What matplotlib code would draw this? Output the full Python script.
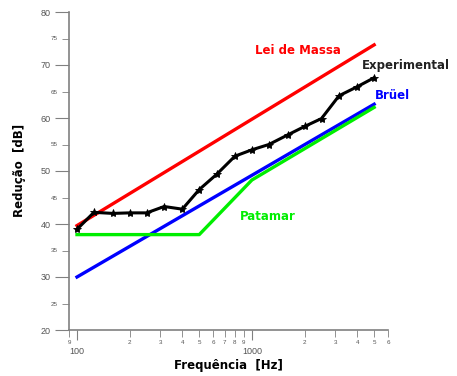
import matplotlib
matplotlib.use("Agg")
import matplotlib.pyplot as plt
from matplotlib.ticker import FixedLocator, FixedFormatter

plt.rcParams["font.family"] = ["Liberation Sans", "DejaVu Sans"]

# ---------------- data ----------------
freq_exp = [100, 125, 160, 200, 250, 315, 400, 500, 630, 800,
            1000, 1250, 1600, 2000, 2500, 3150, 4000, 5000]
red_exp = [39.0, 42.2, 42.0, 42.1, 42.1, 43.3, 42.8, 46.5, 49.4, 52.8,
           54.0, 55.0, 56.8, 58.4, 59.9, 64.2, 65.9, 67.6]

freq_mass = [100, 5000]
red_mass = [39.7, 73.8]

freq_bruel = [100, 5000]
red_bruel = [30.0, 62.6]

freq_patamar = [100, 500, 1000, 5000]
red_patamar = [38.0, 38.0, 48.3, 62.0]

x_minor = [90, 200, 300, 400, 500, 600, 700, 800, 900,
           2000, 3000, 4000, 5000, 6000]
x_minor_labels = ["9", "2", "3", "4", "5", "6", "7", "8", "9",
                  "2", "3", "4", "5", "6"]
x_major = [100, 1000]
x_major_labels = ["100", "1000"]
y_major = [20, 30, 40, 50, 60, 70, 80]
y_minor = [25, 35, 45, 55, 65, 75]

# ---------------- plot ----------------
fig = plt.figure(figsize=(4.57, 3.76), dpi=100)
ax = fig.add_axes([69 / 457, 46 / 376, 319 / 457, 318 / 376])

ax.plot(freq_mass, red_mass, color="#ff0000", lw=2.4)
ax.plot(freq_bruel, red_bruel, color="#0000ff", lw=2.4)
ax.plot(freq_patamar, red_patamar, color="#00ee00", lw=2.4)
ax.plot(freq_exp, red_exp, color="black", lw=2.2, marker="*",
        markersize=6, markeredgewidth=0.6)

ax.set_xscale("log")
ax.set_xlim(90, 6000)
ax.set_ylim(20, 80)

grey = "#808080"
for side in ("top", "right"):
    ax.spines[side].set_visible(False)
for side in ("left", "bottom"):
    ax.spines[side].set_color(grey)
    ax.spines[side].set_linewidth(1.2)

ax.xaxis.set_major_locator(FixedLocator(x_major))
ax.xaxis.set_major_formatter(FixedFormatter(x_major_labels))
ax.xaxis.set_minor_locator(FixedLocator(x_minor))
ax.xaxis.set_minor_formatter(FixedFormatter(x_minor_labels))
ax.tick_params(axis="x", which="major", direction="out", length=7,
               color=grey, labelsize=6.5, labelcolor="#555555", pad=5)
ax.tick_params(axis="x", which="minor", direction="out", length=5,
               color=grey, labelsize=4.5, labelcolor="#555555", pad=2)

ax.yaxis.set_major_locator(FixedLocator(y_major))
ax.yaxis.set_minor_locator(FixedLocator(y_minor))
ax.yaxis.set_minor_formatter(FixedFormatter([str(v) for v in y_minor]))
ax.tick_params(axis="y", which="major", direction="out", length=10,
               color=grey, labelsize=6.5, labelcolor="#555555", pad=3)
ax.tick_params(axis="y", which="minor", direction="out", length=5,
               color=grey, labelsize=4.5, labelcolor="#555555", pad=3)

lab = dict(fontsize=8.5, fontweight="bold", family="DejaVu Sans",
           ha="left", va="center", clip_on=False)
ax.text(1041, 72.8, "Lei de Massa", color="#ff0000", **lab)
ax.text(4252, 70.0, "Experimental", color="#222222", **lab)
ax.text(5045, 64.3, "Brüel", color="#0000ff", **lab)
ax.text(853, 41.4, "Patamar", color="#00ee00", **lab)

fig.text(20 / 457, 1 - 170 / 376, "Redução  [dB]", rotation=90,
         fontsize=8.5, fontweight="bold", family="DejaVu Sans",
         ha="center", va="center")
fig.text(228 / 457, 1 - 365 / 376, "Frequência  [Hz]", fontsize=8.5,
         fontweight="bold", family="DejaVu Sans", ha="center", va="center")

fig.savefig("out.png", dpi=100)
